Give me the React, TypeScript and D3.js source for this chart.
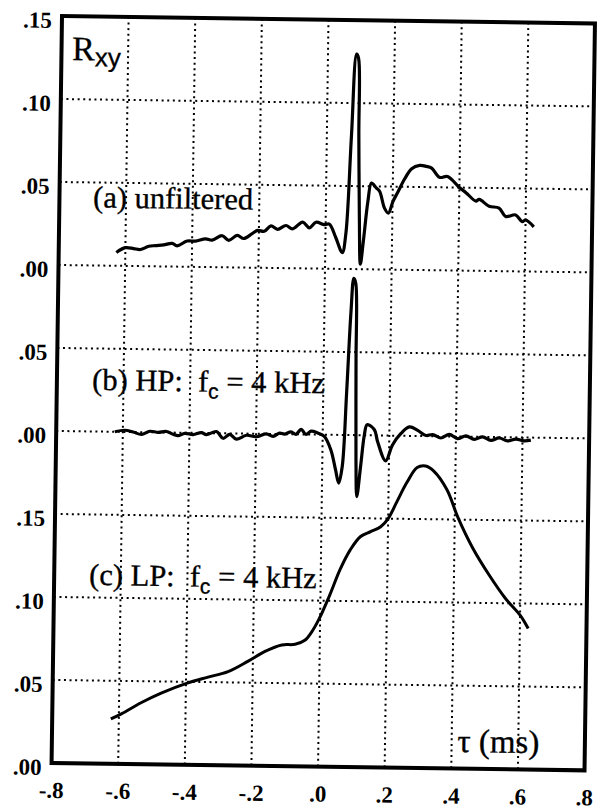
import React from "react";
import * as d3 from "d3";

// ---------- data ----------
const xTicks = [-0.8, -0.6, -0.4, -0.2, 0, 0.2, 0.4, 0.6, 0.8];
const xTickLabels = ["-.8", "-.6", "-.4", "-.2", ".0", ".2", ".4", ".6", ".8"];
const yTicks = [0, 0.05, 0.1, 0.15, 0.2, 0.25, 0.3, 0.35, 0.4, 0.45];
const yTickLabels = [".00", ".05", ".10", ".15", ".00", ".05", ".00", ".05", ".10", ".15"];

// vertical offset of each panel's zero within the stacked axis
const offsetA = 0.3;
const offsetB = 0.2;
const offsetC = 0.0;

// (a) unfiltered  [tau (ms), Rxy]
const unfiltered: [number, number][] = [
  [-0.627, 0.008], [-0.6, 0.011], [-0.575, 0.0105], [-0.555, 0.01], [-0.53, 0.012],
  [-0.51, 0.0125], [-0.485, 0.013], [-0.46, 0.014], [-0.445, 0.0125], [-0.415, 0.0155],
  [-0.39, 0.0155], [-0.36, 0.017], [-0.34, 0.0163], [-0.31, 0.019], [-0.29, 0.0163],
  [-0.265, 0.0193], [-0.245, 0.0175], [-0.22, 0.0205], [-0.204, 0.0225], [-0.184, 0.022],
  [-0.164, 0.0253], [-0.144, 0.0233], [-0.119, 0.0257], [-0.099, 0.0237], [-0.069, 0.0279],
  [-0.049, 0.0245], [-0.029, 0.0279], [-0.004, 0.0265], [0.011, 0.0269], [0.031, 0.0189],
  [0.051, 0.0098], [0.061, 0.021], [0.074, 0.081], [0.086, 0.1295], [0.092, 0.127],
  [0.096, 0.081], [0.101, 0.031], [0.106, 0.003], [0.114, 0.017], [0.126, 0.041],
  [0.136, 0.052], [0.151, 0.049], [0.161, 0.047], [0.176, 0.037], [0.188, 0.034],
  [0.201, 0.041], [0.216, 0.047], [0.236, 0.055], [0.256, 0.061], [0.28, 0.063],
  [0.3, 0.0625], [0.316, 0.0615], [0.34, 0.056], [0.364, 0.0566], [0.4, 0.05],
  [0.42, 0.047], [0.45, 0.042], [0.46, 0.043], [0.49, 0.039], [0.52, 0.038],
  [0.54, 0.033], [0.57, 0.034], [0.59, 0.03], [0.6, 0.031], [0.625, 0.027],
];

// (b) high-pass, fc = 4 kHz
const highPass: [number, number][] = [
  [-0.624, 0], [-0.594, 0.001], [-0.569, 0], [-0.544, -0.0014], [-0.519, 0.0006],
  [-0.494, 0], [-0.469, 0.0006], [-0.449, -0.001], [-0.434, -0.0018], [-0.414, -0.0004],
  [-0.389, -0.001], [-0.364, 0.0002], [-0.349, -0.001], [-0.319, 0.001], [-0.299, -0.003],
  [-0.279, -0.0006], [-0.259, -0.0034], [-0.229, -0.001], [-0.199, -0.0018], [-0.169, 0],
  [-0.149, -0.0014], [-0.129, 0.0006], [-0.115, 0], [-0.095, 0.0014], [-0.08, 0],
  [-0.065, 0.003], [-0.05, 0], [-0.035, 0.002], [-0.015, 0.001], [0.005, -0.001],
  [0.025, -0.009], [0.04, -0.021], [0.05, -0.029], [0.06, -0.019], [0.07, 0.025],
  [0.08, 0.075], [0.087, 0.0945], [0.093, 0.0915], [0.097, 0.045], [0.101, -0.015],
  [0.105, -0.037], [0.115, -0.019], [0.125, 0], [0.133, 0.0064], [0.155, 0.0034],
  [0.165, -0.0036], [0.19, -0.0152], [0.21, -0.0056], [0.235, 0.0014], [0.26, 0.0054],
  [0.285, 0.0034], [0.31, 0.0004], [0.33, 0.001], [0.355, -0.001], [0.38, 0.0012],
  [0.405, -0.0012], [0.43, 0.0005], [0.455, -0.0015], [0.48, 0], [0.505, -0.002],
  [0.53, -0.0005], [0.555, -0.0022], [0.58, -0.001], [0.605, -0.002], [0.625, -0.0015],
];

// (c) low-pass, fc = 4 kHz
const lowPass: [number, number][] = [
  [-0.624, 0.027], [-0.594, 0.03], [-0.534, 0.037], [-0.474, 0.043], [-0.394, 0.0494],
  [-0.334, 0.053], [-0.274, 0.0565], [-0.214, 0.063], [-0.164, 0.069], [-0.114, 0.073],
  [-0.074, 0.0735], [-0.045, 0.076], [-0.025, 0.081], [-0.003, 0.089], [0.027, 0.103],
  [0.058, 0.119], [0.088, 0.131], [0.118, 0.139], [0.148, 0.142], [0.178, 0.145],
  [0.2, 0.15], [0.225, 0.16], [0.255, 0.172], [0.285, 0.181], [0.31, 0.182],
  [0.335, 0.179], [0.375, 0.168], [0.41, 0.151], [0.455, 0.133], [0.505, 0.117],
  [0.555, 0.103], [0.6, 0.093], [0.625, 0.085],
];

// ---------- layout ----------
const WIDTH = 601;
const HEIGHT = 810;
const originX = 62;
const originY = 16;
const tilt = 0.8; // scanned page is slightly rotated
const W = 533;
const H = 747;

const serif = "'Liberation Serif', 'Times New Roman', serif";
const sans = "'Liberation Sans', Arial, sans-serif";

export default function App() {
  const x = d3.scaleLinear().domain([-0.8, 0.8]).range([0, W]);
  const y = d3.scaleLinear().domain([0, 0.45]).range([H, 0]);

  const mk = (off: number) =>
    d3
      .line<[number, number]>()
      .x((d) => x(d[0]))
      .y((d) => y(d[1] + off))
      .curve(d3.curveCatmullRom.alpha(0.5));

  const gridX = xTicks.slice(1, -1);
  const gridY = yTicks.slice(1, -1);
  const textStyle: React.CSSProperties = { whiteSpace: "pre" };

  return (
    <svg
      width={WIDTH}
      height={HEIGHT}
      style={{ position: "absolute", left: 0, top: 0, background: "#fff" }}
    >
      <rect width={WIDTH} height={HEIGHT} fill="#fff" />
      <g transform={`translate(${originX},${originY}) rotate(${tilt})`}>
        {gridX.map((t) => (
          <line
            key={"gx" + t}
            x1={x(t)}
            x2={x(t)}
            y1={0}
            y2={H}
            stroke="#000"
            strokeWidth={2}
            strokeDasharray="2 3.6"
          />
        ))}
        {gridY.map((t) => (
          <line
            key={"gy" + t}
            x1={0}
            x2={W}
            y1={y(t)}
            y2={y(t)}
            stroke="#000"
            strokeWidth={2}
            strokeDasharray="2 3.6"
          />
        ))}
        <rect x={0} y={0} width={W} height={H} fill="none" stroke="#000" strokeWidth={4} />

        <path d={mk(offsetA)(unfiltered) || ""} fill="none" stroke="#000" strokeWidth={3.2} strokeLinejoin="round" />
        <path d={mk(offsetB)(highPass) || ""} fill="none" stroke="#000" strokeWidth={3.2} strokeLinejoin="round" />
        <path d={mk(offsetC)(lowPass) || ""} fill="none" stroke="#000" strokeWidth={3} strokeLinejoin="round" />

        {yTicks.map((t, i) => (
          <text
            key={"yl" + i}
            x={-10}
            y={y(t) + 12}
            textAnchor="end"
            fontFamily={serif}
            fontWeight="bold"
            fontSize={23}
          >
            {yTickLabels[i]}
          </text>
        ))}
        {xTicks.map((t, i) => (
          <text
            key={"xl" + i}
            x={x(t)}
            y={H + 35}
            textAnchor="middle"
            fontFamily={serif}
            fontWeight="bold"
            fontSize={23}
          >
            {xTickLabels[i]}
          </text>
        ))}

        <text x={x(-0.768)} y={y(0.4236)} fontFamily={serif} fontSize={34} stroke="#000" strokeWidth={0.3}>
          R
          <tspan fontFamily={sans} fontSize={26} dy={6}>
            xy
          </tspan>
        </text>

        <text x={x(-0.699)} y={y(offsetA + 0.035)} fontFamily={serif} fontSize={30.5} stroke="#000" strokeWidth={0.35} style={textStyle}>
          (a) unfiltered
        </text>

        <text x={x(-0.694)} y={y(offsetB + 0.025)} fontFamily={serif} fontSize={30.5} stroke="#000" strokeWidth={0.35} style={textStyle}>
          {"(b) HP:  f"}
          <tspan fontFamily={sans} fontSize={21} dy={7}>c</tspan>
          <tspan dy={-7}>{" = 4 kHz"}</tspan>
        </text>

        <text x={x(-0.695)} y={y(offsetC + 0.1075)} fontFamily={serif} fontSize={30.5} stroke="#000" strokeWidth={0.35} style={textStyle}>
          {"(c) LP:  f"}
          <tspan fontFamily={sans} fontSize={21} dy={7}>c</tspan>
          <tspan dy={-7}>{" = 4 kHz"}</tspan>
        </text>

        <text x={x(0.417)} y={y(0.01)} fontFamily={serif} fontSize={33} stroke="#000" strokeWidth={0.35} style={textStyle}>
          τ (ms)
        </text>
      </g>
    </svg>
  );
}
